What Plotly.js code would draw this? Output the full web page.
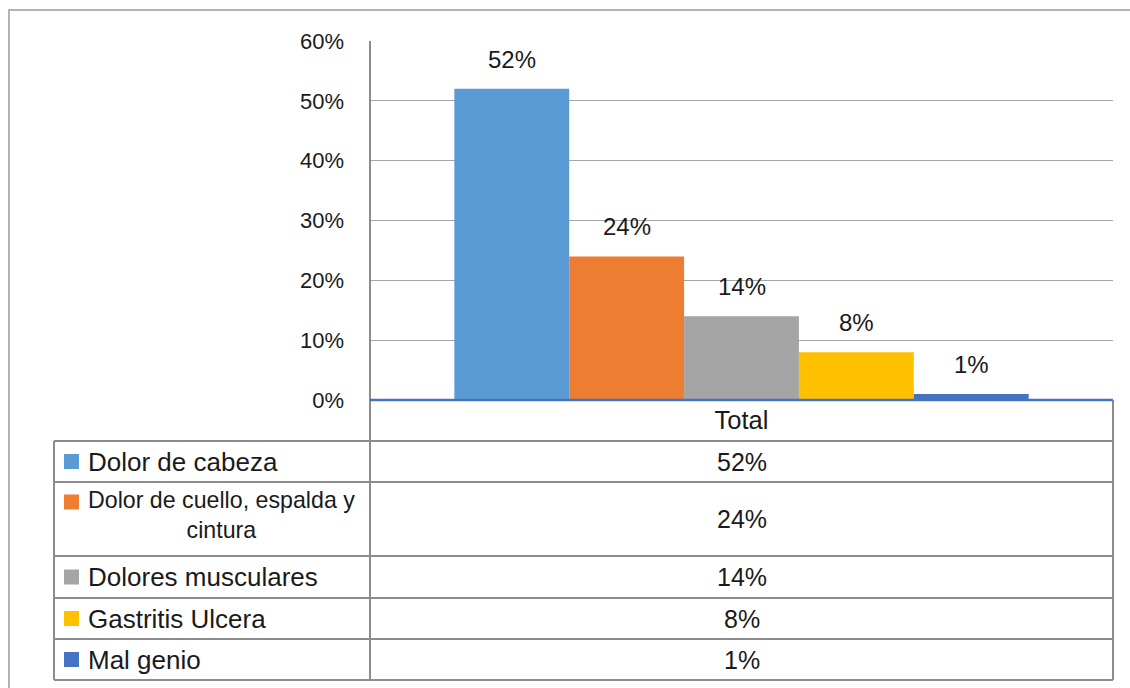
<!DOCTYPE html>
<html>
<head>
<meta charset="utf-8">
<script src="https://cdn.plot.ly/plotly-3.0.1.min.js"></script>
<style>
  html, body { margin: 0; padding: 0; background: #fff; }
  #chart { width: 1130px; height: 688px; }
</style>
</head>
<body>
<div id="chart"></div>
<script>
// ---- Data ----
const categories = ["Total"];
const seriesNames = ["Dolor de cabeza", "Dolor de cuello, espalda y<br>cintura", "Dolores musculares", "Gastritis Ulcera", "Mal genio"];
const seriesValues = [0.52, 0.24, 0.14, 0.08, 0.01];
const seriesColors = ["#5B9BD5", "#ED7D31", "#A5A5A5", "#FFC000", "#4472C4"];
const yTickValues = [0, 0.1, 0.2, 0.3, 0.4, 0.5, 0.6];

// ---- Layout geometry (pixels) ----
const W = 1130, H = 688;
const plotL = 370, plotR = 1113, plotT = 41, plotB = 400;
const bargap = 0.227;
const FONT = "Liberation Sans, Arial, sans-serif";
const px = x => (x - plotL) / (plotR - plotL);
const py = y => (plotB - y) / (plotB - plotT);
const pct = v => Math.round(v * 100) + "%";

// table rows
const tableLeft = 54;
const headerTop = plotB;
const rowEdges = [441, 482, 556, 598, 639, 680];
const gridCol = "#8c8c8c";

const traces = seriesNames.map((name, i) => ({
  type: "bar",
  name: name,
  x: categories,
  y: [seriesValues[i]],
  marker: { color: seriesColors[i] },
  hoverinfo: "skip",
  showlegend: false
}));

const shapes = [];
const annotations = [];

// outer border
shapes.push({ type: "rect", xref: "paper", yref: "paper",
  x0: px(9), x1: px(W + 10), y0: py(10), y1: py(H + 10),
  line: { color: "#9a9a9a", width: 1.5 } });

const hline = (y, x0, x1, color, w) => shapes.push({ type: "line", xref: "paper", yref: "paper",
  x0: px(x0), x1: px(x1), y0: py(y), y1: py(y), line: { color: color, width: w } });
const vline = (x, y0, y1, color, w) => shapes.push({ type: "line", xref: "paper", yref: "paper",
  x0: px(x), x1: px(x), y0: py(y0), y1: py(y1), line: { color: color, width: w } });

rowEdges.forEach(y => hline(y, tableLeft, plotR, gridCol, 2));
vline(tableLeft, rowEdges[0], rowEdges[rowEdges.length - 1], gridCol, 2);
vline(plotL, plotT, rowEdges[rowEdges.length - 1], gridCol, 2);
vline(plotR, headerTop, rowEdges[rowEdges.length - 1], gridCol, 2);
// blue category axis line
hline(plotB, plotL, plotR, "#4472C4", 2.5);

// data labels above bars
const nSeries = seriesValues.length;
const barW = (1 - bargap) / nSeries;
seriesValues.forEach((v, i) => {
  annotations.push({ xref: "x", yref: "y", x: (i - (nSeries - 1) / 2) * barW, y: v,
    text: pct(v), showarrow: false, yanchor: "bottom", yshift: 14,
    font: { family: FONT, size: 24, color: "#1a1a1a" } });
});

// table rows: legend key + label + value
seriesNames.forEach((name, i) => {
  const top = rowEdges[i], bot = rowEdges[i + 1];
  const mid = (top + bot) / 2;
  const multi = name.indexOf("<br>") >= 0;
  const keyY = multi ? top + 20 : mid;
  shapes.push({ type: "rect", xref: "paper", yref: "paper",
    x0: px(64), x1: px(79), y0: py(keyY - 7.5), y1: py(keyY + 7.5),
    fillcolor: seriesColors[i], line: { width: 0 } });
  annotations.push({ xref: "paper", yref: "paper", x: px(86), y: py(multi ? top + 3 : mid),
    xanchor: "left", yanchor: multi ? "top" : "middle", align: "center",
    text: name, showarrow: false,
    font: { family: FONT, size: multi ? 23.2 : 26, color: "#1a1a1a" } });
  annotations.push({ xref: "paper", yref: "paper", x: px((plotL + plotR) / 2), y: py(mid),
    xanchor: "center", yanchor: "middle", text: pct(seriesValues[i]), showarrow: false,
    font: { family: FONT, size: 25, color: "#1a1a1a" } });
});

const layout = {
  width: W, height: H,
  margin: { l: plotL, r: W - plotR, t: plotT, b: H - plotB, pad: 0 },
  paper_bgcolor: "#ffffff", plot_bgcolor: "#ffffff",
  barmode: "group", bargap: bargap, bargroupgap: 0,
  showlegend: false,
  xaxis: {
    type: "category", showgrid: false, zeroline: false, showline: false,
    ticks: "", ticklabelstandoff: 2,
    tickfont: { family: FONT, size: 25.5, color: "#1a1a1a" },
    fixedrange: true
  },
  yaxis: {
    range: [0, 0.6], tickvals: yTickValues, tickformat: ".0%",
    showgrid: true, gridcolor: "#a6a6a6", gridwidth: 1,
    zeroline: false, showline: false, ticks: "", ticklabelstandoff: 25,
    tickfont: { family: FONT, size: 22, color: "#1a1a1a" },
    fixedrange: true
  },
  shapes: shapes,
  annotations: annotations
};

Plotly.newPlot("chart", traces, layout, { displayModeBar: false, staticPlot: true });
</script>
</body>
</html>
